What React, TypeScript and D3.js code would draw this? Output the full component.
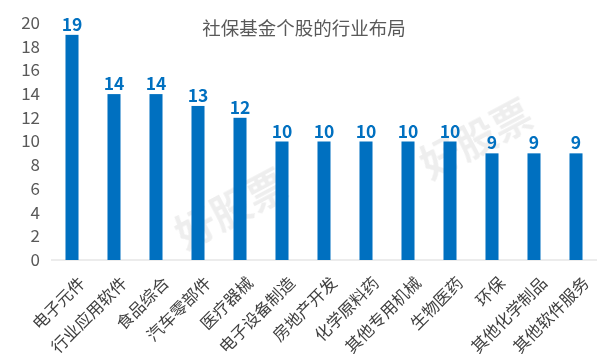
import React from 'react';
import * as d3 from 'd3';

const categories = ['电子元件', '行业应用软件', '食品综合', '汽车零部件', '医疗器械', '电子设备制造', '房地产开发', '化学原料药', '其他专用机械', '生物医药', '环保', '其他化学制品', '其他软件服务'];
const counts = [19, 14, 14, 13, 12, 10, 10, 10, 10, 10, 9, 9, 9];
const yTicks = [0, 2, 4, 6, 8, 10, 12, 14, 16, 18, 20];

const W = 611, H = 362;
const FONT = '"Noto Sans CJK SC", "Microsoft YaHei", sans-serif';

export default function App() {
    const x = d3.scaleBand().domain(categories).range([51, 597]).paddingInner(0.69).paddingOuter(0.345);
    const y = d3.scaleLinear().domain([0, 20]).range([260, 23]);

    return (
        <svg width={W} height={H} style={{position: 'absolute', left: 0, top: 0, background: '#fff'}} fontFamily={FONT}>
            <rect width={W} height={H} fill="#fff"/>
            {/* faint watermark */}
            <g fill="#000" opacity={0.07} fontSize={40} fontWeight="bold">
                <text transform="translate(185,250) rotate(-28)">好股票</text>
                <text transform="translate(430,180) rotate(-28)">好股票</text>
            </g>
            <text x={304} y={35} textAnchor="middle" fontSize={18.5} fill="#595959">社保基金个股的行业布局</text>
            {yTicks.map(t => (
                <text key={t} x={40} y={y(t)} dy="0.35em" textAnchor="end" fontSize={17} fill="#595959">{t}</text>
            ))}
            <line x1={51} x2={597} y1={y(0)} y2={y(0)} stroke="#d9d9d9" strokeWidth={1}/>
            {categories.map((c, i) => (
                <g key={c}>
                    <rect x={x(c)} y={y(counts[i])} width={x.bandwidth()} height={y(0) - y(counts[i])} fill="#0070C0"/>
                    <text x={(x(c) as number) + x.bandwidth() / 2} y={y(counts[i]) - 4} textAnchor="middle"
                          fontSize={17.5} fontWeight="bold" fill="#0070C0">{counts[i]}</text>
                    <text transform={`translate(${(x(c) as number) + x.bandwidth() / 2 + 6},${y(0) + 16}) rotate(-45)`}
                          textAnchor="end" dy="0.7em" fontSize={16.5} fill="#404040">{c}</text>
                </g>
            ))}
        </svg>
    );
}
